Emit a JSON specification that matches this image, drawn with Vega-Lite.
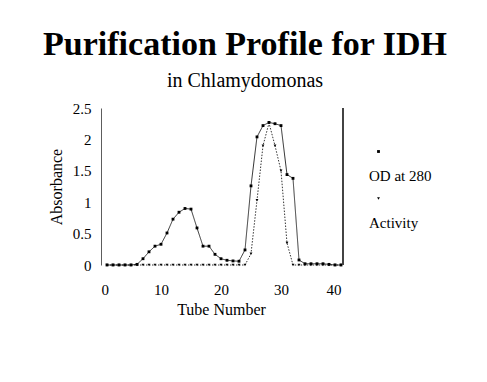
{
  "$schema": "https://vega.github.io/schema/vega-lite/v6.json",
  "autosize": "none",
  "width": 240,
  "height": 157,
  "padding": {"left": 101, "top": 108, "right": 146, "bottom": 117},
  "background": "white",
  "config": {
    "view": {"stroke": null},
    "font": "Liberation Serif",
    "axis": {"labelFont": "Liberation Serif", "titleFont": "Liberation Serif", "labelColor": "black", "titleColor": "black", "grid": false, "titleFontWeight": "normal"},
    "legend": {"labelFont": "Liberation Serif", "labelFontSize": 15, "labelColor": "black"}
  },
  "title": {
    "text": "Purification Profile for IDH",
    "subtitle": "in Chlamydomonas",
    "font": "Liberation Serif",
    "fontSize": 34,
    "fontWeight": "bold",
    "color": "black",
    "subtitleFont": "Liberation Serif",
    "subtitleFontSize": 20,
    "subtitleColor": "black",
    "subtitlePadding": 9,
    "anchor": "middle",
    "frame": "group",
    "dx": 24,
    "offset": 10
  },
  "data": {"values": [
    {"tube": 1, "series": "OD at 280", "value": 0},
    {"tube": 2, "series": "OD at 280", "value": 0},
    {"tube": 3, "series": "OD at 280", "value": 0},
    {"tube": 4, "series": "OD at 280", "value": 0},
    {"tube": 5, "series": "OD at 280", "value": 0},
    {"tube": 6, "series": "OD at 280", "value": 0.01},
    {"tube": 7, "series": "OD at 280", "value": 0.1},
    {"tube": 8, "series": "OD at 280", "value": 0.21},
    {"tube": 9, "series": "OD at 280", "value": 0.3},
    {"tube": 10, "series": "OD at 280", "value": 0.33},
    {"tube": 11, "series": "OD at 280", "value": 0.51},
    {"tube": 12, "series": "OD at 280", "value": 0.73},
    {"tube": 13, "series": "OD at 280", "value": 0.84},
    {"tube": 14, "series": "OD at 280", "value": 0.9},
    {"tube": 15, "series": "OD at 280", "value": 0.89},
    {"tube": 16, "series": "OD at 280", "value": 0.59},
    {"tube": 17, "series": "OD at 280", "value": 0.3},
    {"tube": 18, "series": "OD at 280", "value": 0.3},
    {"tube": 19, "series": "OD at 280", "value": 0.17},
    {"tube": 20, "series": "OD at 280", "value": 0.1},
    {"tube": 21, "series": "OD at 280", "value": 0.075},
    {"tube": 22, "series": "OD at 280", "value": 0.065},
    {"tube": 23, "series": "OD at 280", "value": 0.06},
    {"tube": 24, "series": "OD at 280", "value": 0.24},
    {"tube": 25, "series": "OD at 280", "value": 1.26},
    {"tube": 26, "series": "OD at 280", "value": 2.04},
    {"tube": 27, "series": "OD at 280", "value": 2.22},
    {"tube": 28, "series": "OD at 280", "value": 2.27},
    {"tube": 29, "series": "OD at 280", "value": 2.25},
    {"tube": 30, "series": "OD at 280", "value": 2.22},
    {"tube": 31, "series": "OD at 280", "value": 1.44},
    {"tube": 32, "series": "OD at 280", "value": 1.38},
    {"tube": 33, "series": "OD at 280", "value": 0.08},
    {"tube": 34, "series": "OD at 280", "value": 0.02},
    {"tube": 35, "series": "OD at 280", "value": 0.02},
    {"tube": 36, "series": "OD at 280", "value": 0.02},
    {"tube": 37, "series": "OD at 280", "value": 0.02},
    {"tube": 38, "series": "OD at 280", "value": 0.01},
    {"tube": 39, "series": "OD at 280", "value": 0},
    {"tube": 40, "series": "OD at 280", "value": 0},
    {"tube": 1, "series": "Activity", "value": 0},
    {"tube": 2, "series": "Activity", "value": 0},
    {"tube": 3, "series": "Activity", "value": 0},
    {"tube": 4, "series": "Activity", "value": 0},
    {"tube": 5, "series": "Activity", "value": 0},
    {"tube": 6, "series": "Activity", "value": 0},
    {"tube": 7, "series": "Activity", "value": 0},
    {"tube": 8, "series": "Activity", "value": 0},
    {"tube": 9, "series": "Activity", "value": 0},
    {"tube": 10, "series": "Activity", "value": 0},
    {"tube": 11, "series": "Activity", "value": 0},
    {"tube": 12, "series": "Activity", "value": 0},
    {"tube": 13, "series": "Activity", "value": 0},
    {"tube": 14, "series": "Activity", "value": 0},
    {"tube": 15, "series": "Activity", "value": 0},
    {"tube": 16, "series": "Activity", "value": 0},
    {"tube": 17, "series": "Activity", "value": 0},
    {"tube": 18, "series": "Activity", "value": 0},
    {"tube": 19, "series": "Activity", "value": 0},
    {"tube": 20, "series": "Activity", "value": 0},
    {"tube": 21, "series": "Activity", "value": 0},
    {"tube": 22, "series": "Activity", "value": 0},
    {"tube": 23, "series": "Activity", "value": 0},
    {"tube": 24, "series": "Activity", "value": 0},
    {"tube": 25, "series": "Activity", "value": 0.18},
    {"tube": 26, "series": "Activity", "value": 1.03},
    {"tube": 27, "series": "Activity", "value": 1.9},
    {"tube": 28, "series": "Activity", "value": 2.26},
    {"tube": 29, "series": "Activity", "value": 1.9},
    {"tube": 30, "series": "Activity", "value": 1.5},
    {"tube": 31, "series": "Activity", "value": 0.35},
    {"tube": 32, "series": "Activity", "value": 0},
    {"tube": 33, "series": "Activity", "value": 0},
    {"tube": 34, "series": "Activity", "value": 0},
    {"tube": 35, "series": "Activity", "value": 0},
    {"tube": 36, "series": "Activity", "value": 0},
    {"tube": 37, "series": "Activity", "value": 0},
    {"tube": 38, "series": "Activity", "value": 0},
    {"tube": 39, "series": "Activity", "value": 0},
    {"tube": 40, "series": "Activity", "value": 0}
  ]},
  "encoding": {
    "x": {"field": "tube", "type": "quantitative", "scale": {"domain": [0, 40], "nice": false},
      "axis": {"title": "Tube Number", "values": [0, 10, 20, 30, 40], "domain": false, "ticks": false, "labelPadding": 17, "labelFontSize": 15, "titleFontSize": 16, "titlePadding": 4}},
    "y": {"field": "value", "type": "quantitative", "scale": {"domain": [0, 2.5], "nice": false},
      "axis": {"title": "Absorbance", "values": [0, 0.5, 1, 1.5, 2, 2.5], "format": "~g", "domain": true, "domainColor": "#333", "domainWidth": 0.8, "ticks": false, "labelPadding": 10, "labelFontSize": 15, "titleFontSize": 16, "titlePadding": 8}}
  },
  "layer": [
    {
      "mark": {"type": "line", "color": "black", "strokeWidth": 0.8},
      "encoding": {
        "strokeDash": {"field": "series", "type": "nominal", "scale": {"domain": ["OD at 280", "Activity"], "range": [[1, 0], [1.5, 1.5]]},
          "legend": {"title": null, "orient": "none", "legendX": 270, "legendY": 36, "labelBaseline": "top", "labelExpr": "['', datum.label]", "labelOffset": -17, "rowPadding": 7, "symbolSize": 8, "symbolStrokeWidth": 0.8, "symbolStrokeColor": "black", "symbolFillColor": "black", "padding": 0}}
      }
    },
    {
      "mark": {"type": "point", "color": "black", "filled": true, "opacity": 1, "size": 8},
      "encoding": {
        "shape": {"field": "series", "type": "nominal", "scale": {"domain": ["OD at 280", "Activity"], "range": ["square", "triangle-down"]},
          "legend": {"title": null, "orient": "none", "legendX": 270, "legendY": 36, "labelBaseline": "top", "labelExpr": "['', datum.label]", "labelOffset": -17, "rowPadding": 7, "symbolSize": 8, "symbolStrokeWidth": 0.8, "symbolStrokeColor": "black", "symbolFillColor": "black", "padding": 0}}
      }
    },
    {
      "mark": {"type": "rule", "color": "#444", "strokeWidth": 0.8},
      "encoding": {"x": {"datum": 40.3}, "y": {"datum": 0}, "y2": {"datum": 2.5}}
    }
  ]
}
